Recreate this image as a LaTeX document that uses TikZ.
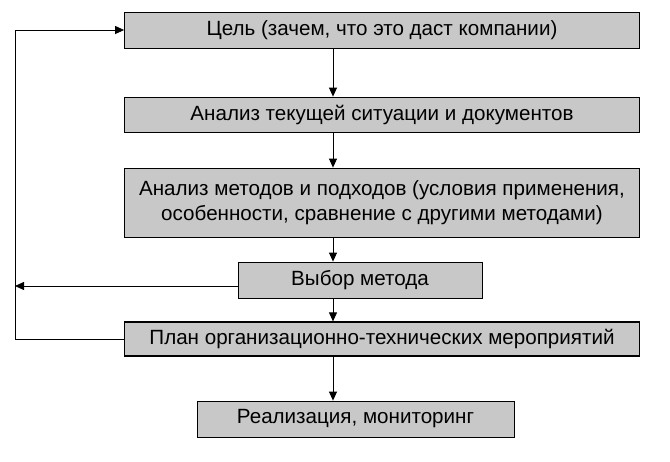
\documentclass[tikz,border=0pt]{standalone}
\usepackage{fontspec}
\setmainfont{Liberation Sans}
\usetikzlibrary{arrows.meta}
\definecolor{boxgray}{RGB}{200,200,200}

\begin{document}
\begin{tikzpicture}[x=1pt,y=-1pt,
        stepbox/.style={draw,thick,fill=boxgray,inner sep=0pt,align=center,font=\fontsize{20.6}{25}\selectfont},
        link/.style={thick,-{Triangle[length=9pt,width=8pt]}}]
    \useasboundingbox (0,0) rectangle (670,461);
    %    boxes
    \path node (goal) [stepbox,minimum width=515,minimum height=36] at (382,30) {Цель (зачем, что это даст компании)};
    \path node (anal) [stepbox,minimum width=515,minimum height=35] at (382,114.5) {Анализ текущей ситуации и документов};
    \path node (meth) [stepbox,minimum width=515,minimum height=69] at (382,202.5) {Анализ методов и подходов (условия применения,\\особенности, сравнение с другими методами)};
    \path node (choice) [stepbox,minimum width=244,minimum height=36] at (360,280) {Выбор метода};
    \path node (plan) [stepbox,very thick,minimum width=515,minimum height=34] at (382,339) {План организационно-технических мероприятий};
    \path node (impl) [stepbox,minimum width=317,minimum height=36] at (355.5,419) {Реализация, мониторинг};

    \coordinate (mid) at (333,0);
    \coordinate (lt) at (15,30);
    \coordinate (lm) at (15,286);
    \coordinate (lb) at (15,339);

    \draw[link] (goal.south -| mid) -- (anal.north -| mid);
    \draw[link] (anal.south -| mid) -- (meth.north -| mid);
    \draw[link] (meth.south -| mid) -- (choice.north -| mid);
    \draw[link] (choice.south -| mid) -- (plan.north -| mid);
    \draw[link] (plan.south -| mid) -- (impl.north -| mid);
    \draw[link] (choice.west |- lm) -- (lm);
    \draw[link] (plan.west) -- (lb) -- (lt) -- (goal.west);
\end{tikzpicture}
\end{document}
